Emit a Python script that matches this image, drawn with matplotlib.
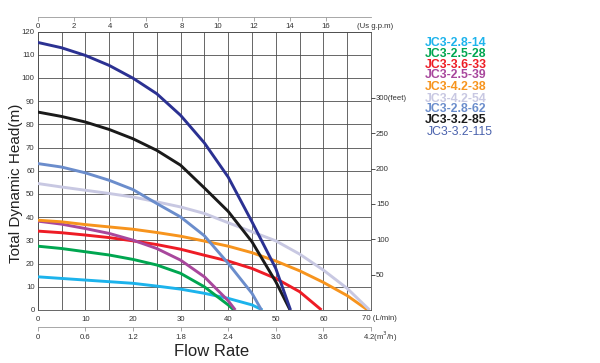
import matplotlib
matplotlib.use("Agg")
import matplotlib.pyplot as plt

plt.rcParams['font.family'] = ['Liberation Sans', 'DejaVu Sans']

# ---- data (flow in L/min, head in m) ----
series_names = ["JC3-2.8-14", "JC3-2.5-28", "JC3-3.6-33", "JC3-2.5-39", "JC3-4.2-38",
                "JC3-4.2-54", "JC3-2.8-62", "JC3-3.2-85", "JC3-3.2-115"]
series_colors = ["#1cb3ec", "#00a650", "#ee1c25", "#a8479c", "#f7941d",
                 "#c8c8e2", "#6b8dcc", "#1a1a1a", "#2b3192"]
legend_colors = ["#1cb3ec", "#00a650", "#ee1c25", "#a8479c", "#f7941d",
                 "#c8c8e2", "#6b8dcc", "#1a1a1a", "#4a62ad"]

flow_14 = [0, 5, 10, 15, 20, 25, 30, 35, 40, 45, 47.2]
head_14 = [14.3, 13.6, 12.9, 12.2, 11.5, 10.3, 9.0, 7.2, 5.0, 2.2, 0]

flow_28 = [0, 5, 10, 15, 20, 25, 30, 35, 40, 41.2]
head_28 = [27.5, 26.5, 25.1, 23.7, 21.8, 19.4, 15.8, 10.0, 2.2, 0]

flow_33 = [0, 5, 10, 15, 20, 25, 30, 35, 40, 45, 50, 55, 59.6]
head_33 = [34.0, 33.3, 32.3, 31.2, 29.8, 28.2, 26.2, 23.6, 21.1, 17.9, 13.6, 7.9, 0]

flow_39 = [0, 5, 10, 15, 20, 25, 30, 35, 40, 41.5]
head_39 = [38.3, 37.0, 35.1, 33.0, 30.1, 26.5, 21.5, 14.3, 4.0, 0]

flow_38 = [0, 5, 10, 15, 20, 25, 30, 35, 40, 45, 50, 55, 60, 65, 69.3]
head_38 = [38.7, 38.0, 36.8, 35.8, 34.8, 33.4, 31.8, 29.7, 27.5, 24.7, 21.1, 16.9, 11.9, 6.2, 0]

flow_54 = [0, 5, 10, 15, 20, 25, 30, 35, 40, 45, 50, 55, 60, 65, 69.7]
head_54 = [54.5, 53.0, 51.6, 50.2, 48.7, 46.6, 44.4, 41.6, 37.6, 33.7, 29.8, 24.1, 17.2, 9.3, 0]

flow_62 = [0, 5, 10, 15, 20, 25, 30, 35, 40, 45, 47.0]
head_62 = [63.1, 61.6, 59.1, 55.9, 51.9, 45.9, 40.1, 32.0, 20.1, 7.2, 0]

flow_85 = [0, 5, 10, 15, 20, 25, 30, 35, 40, 45, 50, 53.0]
head_85 = [85.3, 83.4, 81.0, 77.8, 73.8, 68.8, 62.4, 52.6, 42.5, 29.4, 12.2, 0]

flow_115 = [0, 5, 10, 15, 20, 25, 30, 35, 40, 45, 50, 53.1]
head_115 = [115.3, 113.0, 109.7, 105.4, 99.9, 93.2, 83.9, 72.0, 57.3, 38.0, 17.9, 0]

flows = [flow_14, flow_28, flow_33, flow_39, flow_38, flow_54, flow_62, flow_85, flow_115]
heads = [head_14, head_28, head_33, head_39, head_38, head_54, head_62, head_85, head_115]

lpm_ticks = [0, 10, 20, 30, 40, 50, 60, 70]
lpm_labels = ["0", "10", "20", "30", "40", "50", "60", ""]
head_ticks = [0, 10, 20, 30, 40, 50, 60, 70, 80, 90, 100, 110, 120]
gpm_ticks = [0, 2, 4, 6, 8, 10, 12, 14, 16]
m3h_ticks = [0, 0.6, 1.2, 1.8, 2.4, 3.0, 3.6, 4.2]
m3h_labels = ["0", "0.6", "1.2", "1.8", "2.4", "3.0", "3.6", ""]
feet_ticks = [50, 100, 150, 200, 250, 300]
feet_labels = ["50", "100", "150", "200", "250", "300(feet)"]

W, H = 600, 363
fig = plt.figure(figsize=(6, 3.63), dpi=100)

x0, x1 = 37.7, 371.0
ytop, ybot = 31.5, 310.0
ax = fig.add_axes([x0 / W, 1 - ybot / H, (x1 - x0) / W, (ybot - ytop) / H])
ax.set_xlim(0, 70)
ax.set_ylim(0, 120)

tick_color = "#333333"
fs_tick = 5.6
ax.set_xticks(lpm_ticks)
ax.set_xticks(range(0, 71, 5), minor=True)
ax.set_yticks(head_ticks)
ax.set_xticklabels(lpm_labels)
ax.tick_params(axis='both', which='both', length=0, labelsize=fs_tick, colors=tick_color)
ax.tick_params(axis='x', pad=4)
ax.tick_params(axis='y', pad=2.2)
ax.grid(True, which='both', color="#4d4d4d", linewidth=0.6)
for s in ax.spines.values():
    s.set_color("#4d4d4d")
    s.set_linewidth(0.6)
ax.set_axisbelow(True)

for fx, hy, c in zip(flows, heads, series_colors):
    ax.plot(fx, hy, color=c, linewidth=2.1, solid_joinstyle='round',
            solid_capstyle='butt', zorder=3)

fig.text(16 / W, 1 - 183 / H, "Total Dynamic Head(m)", fontsize=11, color="#222222",
         rotation=90, ha='center', va='center')
fig.text(362 / W, 1 - 318.5 / H, "70 (L/min)", fontsize=fs_tick, color=tick_color,
         ha='left', va='center')

# right feet axis
axr = ax.twinx()
axr.set_ylim(0, 120 / 0.3048)
axr.set_yticks(feet_ticks)
axr.set_yticklabels(feet_labels)
axr.tick_params(axis='y', length=3, width=0.6, pad=0.5, labelsize=fs_tick, colors=tick_color)
for s in axr.spines.values():
    s.set_visible(False)

# top US gpm axis
ytopax = 17.0
axg = fig.add_axes([x0 / W, 1 - ytopax / H, (x1 - x0) / W, 0.0001])
axg.set_xlim(0, 70 / 3.78541)
axg.set_xticks(gpm_ticks)
axg.set_yticks([])
for k in ['top', 'left', 'right']:
    axg.spines[k].set_visible(False)
axg.spines['bottom'].set_color("#999999")
axg.spines['bottom'].set_linewidth(0.6)
axg.patch.set_visible(False)
axg.tick_params(axis='x', length=3, width=0.6, pad=1.5, labelsize=fs_tick,
                colors=tick_color)
axg.tick_params(axis='x', color="#999999")
fig.text(357 / W, 1 - 26 / H, "(Us g.p.m)", fontsize=fs_tick, color=tick_color,
         ha='left', va='center')

# bottom m3/h axis
ym3 = 327.0
axm = fig.add_axes([x0 / W, 1 - ym3 / H, (x1 - x0) / W, 0.0001])
axm.set_xlim(0, 4.2)
axm.set_xticks(m3h_ticks)
axm.set_xticklabels(m3h_labels)
axm.set_yticks([])
for k in ['top', 'left', 'right']:
    axm.spines[k].set_visible(False)
axm.spines['bottom'].set_color("#999999")
axm.spines['bottom'].set_linewidth(0.6)
axm.patch.set_visible(False)
axm.tick_params(axis='x', length=3, width=0.6, pad=2, labelsize=fs_tick, colors=tick_color)
axm.tick_params(axis='x', color="#999999")
fig.text(363 / W, 1 - 336.5 / H, "4.2(m$^3$/h)", fontsize=fs_tick, color=tick_color,
         ha='left', va='center')

fig.text(212 / W, 1 - 352 / H, "Flow Rate", fontsize=12, color="#222222",
         ha='center', va='center')

# legend as coloured text
leg_y = [42.7, 54.0, 64.7, 75.3, 86.7, 98.7, 109.3, 120.0, 131.7]
for i, (name, c, yy) in enumerate(zip(series_names, legend_colors, leg_y)):
    bold = i < 8
    xx = 425 if bold else 427
    fig.text(xx / W, 1 - yy / H, name, fontsize=8.8, color=c,
             fontweight='bold' if bold else 'normal', ha='left', va='center')

fig.savefig("out.png", dpi=100)
